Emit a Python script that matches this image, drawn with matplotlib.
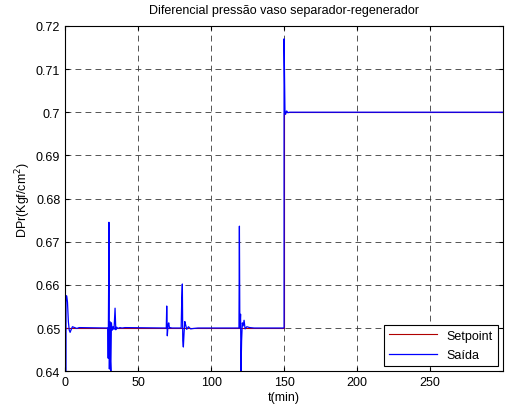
import matplotlib
matplotlib.use("Agg")
import matplotlib.pyplot as plt

plt.rcParams['font.family'] = ['Liberation Sans', 'DejaVu Sans']
plt.rcParams['font.size'] = 9

# setpoint
t_sp = [0, 150, 150, 300]
y_sp = [0.65, 0.65, 0.70, 0.70]

# saida (process output)
t_out = [0, 0.6, 1.1, 1.6, 2.2, 2.8, 3.4, 4.2, 5.0, 6.5, 8.0, 9.6,
         29.3, 29.5, 29.8, 30.0, 30.3, 30.6, 30.9, 31.3, 31.7, 32.2, 32.8, 33.5, 34.2, 34.7,
         35.3, 36.2, 37.5, 39.0, 41.0,
         69.3, 69.6, 70.0, 70.5, 71.0, 71.5, 72.2, 73.0,
         79.5, 79.9, 80.3, 80.6, 81.0, 81.5, 82.0, 82.6, 83.3, 84.5, 86.0, 88.0, 91.0,
         119.1, 119.4, 119.7, 120.2, 120.5, 120.9, 121.4, 122.0, 122.6, 123.3, 124.5, 126.5, 129.5,
         150.0, 150.0, 150.6, 151.0, 151.8, 152.6, 154.0, 300]
y_out = [0.0, 0.6575, 0.6574, 0.6560, 0.6515, 0.6495, 0.6490, 0.6497, 0.6503, 0.6501, 0.6499, 0.6501,
         0.6500, 0.6430, 0.6600, 0.6745, 0.6405, 0.6515, 0.6430, 0.6400, 0.6512, 0.6495, 0.6503, 0.6497, 0.6546, 0.6496,
         0.6502, 0.6499, 0.6501, 0.6500, 0.6501,
         0.6500, 0.6551, 0.6482, 0.6508, 0.6512, 0.6499, 0.6501, 0.6500,
         0.6500, 0.6567, 0.6602, 0.6470, 0.6456, 0.6490, 0.6515, 0.6507, 0.6497, 0.6503, 0.6498, 0.6499, 0.6500,
         0.6500, 0.6736, 0.6500, 0.6532, 0.6400, 0.6470, 0.6512, 0.6505, 0.6518, 0.6498, 0.6503, 0.6501, 0.6500,
         0.6500, 0.7170, 0.7005, 0.6995, 0.7003, 0.6999, 0.7000, 0.7000]

xticks = [0, 50, 100, 150, 200, 250]
yticks = [0.64, 0.65, 0.66, 0.67, 0.68, 0.69, 0.70, 0.71, 0.72]
ytick_labels = ['0.64', '0.65', '0.66', '0.67', '0.68', '0.69', '0.7', '0.71', '0.72']

fig = plt.figure(figsize=(5.05, 4.14), dpi=100)
ax = fig.add_axes([0.129, 0.101, 0.867, 0.834])

ax.plot(t_sp, y_sp, color='#b00000', lw=0.8, label='Setpoint')
ax.plot(t_out, y_out, color='#0000ff', lw=0.9, label='Saída')

ax.set_xlim(0, 300)
ax.set_ylim(0.64, 0.72)
ax.set_xticks(xticks)
ax.set_yticks(yticks)
ax.set_yticklabels(ytick_labels)
ax.tick_params(direction='in', top=True, right=True, length=3, labelsize=9)
ax.grid(True, color='#383838', linestyle=(0, (7, 5)), linewidth=0.6)

ax.set_title('Diferencial pressão vaso separador-regenerador', fontsize=9, pad=9)
ax.set_xlabel('t(min)', fontsize=9, labelpad=2)
ax.set_ylabel('DPr(Kgf/cm$^2$)', fontsize=9, labelpad=2)

leg = ax.legend(loc='lower right', fancybox=False, edgecolor='black', framealpha=1,
                borderaxespad=0.4, handlelength=3.8, fontsize=9, labelspacing=0.6)
leg.get_frame().set_linewidth(0.8)

fig.savefig('out.png', dpi=100)
